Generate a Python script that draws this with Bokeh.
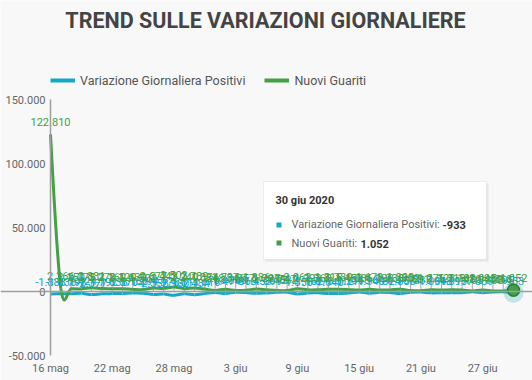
import numpy as np
import pandas as pd
from bokeh.plotting import figure
from bokeh.models import (ColumnDataSource, Range1d, FixedTicker, Span, Legend,
                          LegendItem, BoxAnnotation, Label)
from bokeh.core.properties import value
from bokeh.embed import file_html
from bokeh.resources import INLINE

# ---------------- data ----------------
DATES = pd.date_range("2020-05-16", "2020-06-30", freq="D")
VAR_POSITIVI = [-1883, -1836, -1798, -1424, -2377, -1792, -1638, -1570, -1158, -1294,
                -2358, -1976, -2980, -1811, -2484, -1616, -708, -1474, -596, -868,
                -1453, -1099, -615, -532, -1858, -1162, -1073, -1640, -1512, -1211,
                -365, -1340, -644, -824, -1558, -571, -335, -1064, -918, -1017,
                -957, -185, -889, -308, -195, -933]
NUOVI_GUARITI = [122810, 2366, 2150, 2075, 2881, 2278, 2160, 2120, 1639, 1502,
                 2677, 2443, 3503, 2240, 2789, 1874, 848, 1737, 846, 957,
                 1886, 1297, 759, 747, 2062, 1293, 1360, 1815, 1780, 1450,
                 1086, 1673, 1198, 1238, 1808, 802, 591, 1276, 1128, 1319,
                 1102, 480, 1095, 480, 368, 1052]
SERIES_NAMES = ["Variazione Giornaliera Positivi", "Nuovi Guariti"]
X_TICK_DATES = ["2020-05-16", "2020-05-22", "2020-05-28", "2020-06-03",
                "2020-06-09", "2020-06-15", "2020-06-21", "2020-06-27"]
X_TICK_LABELS = ["16 mag", "22 mag", "28 mag", "3 giu", "9 giu", "15 giu", "21 giu", "27 giu"]
Y_TICKS = [-50000, 0, 50000, 100000, 150000]
Y_TICK_LABELS = ["-50.000", "0", "50.000", "100.000", "150.000"]
TITLE = "TREND SULLE VARIAZIONI GIORNALIERE"
TOOLTIP_DATE = "30 giu 2020"

# ---------------- styles / layout (page pixels) ----------------
BLUE = "#13a8c8"
GREEN = "#43a047"
BG = "#f8f8f8"
FONT = "Roboto"
W, H = 532, 380          # figure; the frame fills it
X_FIRST_PX, X_LAST_PX = 50, 513      # first / last day
Y_TOP_PX, Y_BOT_PX = 99, 355         # 150.000 / -50.000 lines
DAY_MS = 86400000.0


def it_fmt(v):
    s = f"{abs(int(v)):,}".replace(",", ".")
    return "-" + s if v < 0 else s


def to_ms(d):
    return np.array(pd.to_datetime(d).values.astype("datetime64[ms]").astype(np.int64), dtype=float)


xs = to_ms(DATES)
y_lo, y_hi = min(Y_TICKS), max(Y_TICKS)

# ranges so that the frame (whole canvas) maps the data where the reference has it
ms_per_px = (xs[-1] - xs[0]) / (X_LAST_PX - X_FIRST_PX)
x_start = xs[0] - X_FIRST_PX * ms_per_px
x_end = xs[-1] + (W - X_LAST_PX) * ms_per_px
u_per_px = (y_hi - y_lo) / (Y_BOT_PX - Y_TOP_PX)
y_end = y_hi + Y_TOP_PX * u_per_px
y_start = y_lo - (H - Y_BOT_PX) * u_per_px


def smooth_source(ys):
    ys = np.asarray(ys, dtype=float)
    n = len(xs)
    rec = {k: [] for k in ["x0", "y0", "x1", "y1", "cx0", "cy0", "cx1", "cy1"]}
    for i in range(n - 1):
        if i == 0:
            c0x, c0y = xs[0], ys[0]
        else:
            c0x = xs[i] + (xs[i + 1] - xs[i - 1]) / 6
            c0y = ys[i] + (ys[i + 1] - ys[i - 1]) / 6
        if i + 2 >= n:
            c1x, c1y = xs[i + 1], ys[i + 1]
        else:
            c1x = xs[i + 1] - (xs[i + 2] - xs[i]) / 6
            c1y = ys[i + 1] - (ys[i + 2] - ys[i]) / 6
        rec["x0"].append(xs[i]); rec["y0"].append(ys[i])
        rec["x1"].append(xs[i + 1]); rec["y1"].append(ys[i + 1])
        rec["cx0"].append(c0x); rec["cy0"].append(c0y)
        rec["cx1"].append(c1x); rec["cy1"].append(c1y)
    return ColumnDataSource(rec)


p = figure(width=W, height=H, x_axis_type="datetime", output_backend="svg",
           toolbar_location=None, min_border=0,
           x_range=Range1d(x_start, x_end), y_range=Range1d(y_start, y_end))
p.background_fill_color = BG
p.border_fill_color = BG
p.outline_line_color = None
p.grid.visible = False

# x axis, drawn at the -50.000 line
xt = to_ms(X_TICK_DATES)
p.xaxis.fixed_location = y_lo
p.xaxis.ticker = FixedTicker(ticks=list(xt))
p.xaxis.major_label_overrides = {float(t): lab for t, lab in zip(xt, X_TICK_LABELS)}
p.xaxis.axis_line_color = None
p.xaxis.major_tick_line_color = None
p.xaxis.minor_tick_line_color = None
p.xaxis.major_tick_out = 0
p.xaxis.major_label_standoff = 6
p.xaxis.major_label_text_font = FONT
p.xaxis.major_label_text_font_size = "11px"
p.xaxis.major_label_text_color = "#666666"

# y axis, drawn at the first day
p.yaxis.fixed_location = xs[0]
p.yaxis.bounds = (y_lo, y_hi)
p.yaxis.ticker = FixedTicker(ticks=Y_TICKS)
p.yaxis.major_label_overrides = {t: lab for t, lab in zip(Y_TICKS, Y_TICK_LABELS)}
p.yaxis.axis_line_color = "#9e9e9e"
p.yaxis.axis_line_width = 1.5
p.yaxis.major_tick_line_color = None
p.yaxis.minor_tick_line_color = None
p.yaxis.major_tick_out = 0
p.yaxis.major_label_standoff = 5
p.yaxis.major_label_text_font = FONT
p.yaxis.major_label_text_font_size = "11px"
p.yaxis.major_label_text_color = "#666666"

# zero line & day ticks
p.add_layout(Span(location=0, dimension="width", line_color="#9e9e9e", line_width=1.5))
TICK_PX = 17
p.segment(x0=xs, y0=np.zeros(len(xs)), x1=xs, y1=np.full(len(xs), TICK_PX * u_per_px),
          line_color="#a8a8a8", line_width=1)

# smoothed series
for ys, col in [(VAR_POSITIVI, BLUE), (NUOVI_GUARITI, GREEN)]:
    p.bezier(x0="x0", y0="y0", x1="x1", y1="y1", cx0="cx0", cy0="cy0", cx1="cx1", cy1="cy1",
             source=smooth_source(ys), line_color=col, line_width=3)

# data labels
for ys, col in [(VAR_POSITIVI, BLUE), (NUOVI_GUARITI, GREEN)]:
    src = ColumnDataSource(dict(x=xs, y=ys, t=[it_fmt(v) for v in ys]))
    p.text(x="x", y="y", text="t", source=src, text_color=col, text_align="center",
           text_baseline="alphabetic", y_offset=-12, text_font=value(FONT),
           text_font_size="11px")

# hovered last point
p.scatter(x=[xs[-1]], y=[VAR_POSITIVI[-1]], size=20, fill_color=BLUE, fill_alpha=0.25,
          line_color=None)
p.scatter(x=[xs[-1]], y=[NUOVI_GUARITI[-1]], size=12, fill_color=GREEN,
          line_color="#2e7d32", line_width=1.5)


# screen helpers (frame == canvas == page)
def sx(img_x):
    return img_x


def sy(img_y):
    return H - img_y


# title
p.add_layout(Label(x=sx(265), y=sy(20), x_units="screen", y_units="screen", text=TITLE,
                   text_font=FONT, text_font_size="21.5px", text_font_style="bold",
                   text_color="#444444", text_align="center", text_baseline="alphabetic"))

# legend (proxy renderers)
r1 = p.line(x=[np.nan], y=[np.nan], line_color=BLUE, line_width=4)
r2 = p.line(x=[np.nan], y=[np.nan], line_color=GREEN, line_width=4)
LEG_H = 18
legend = Legend(items=[LegendItem(label=SERIES_NAMES[0], renderers=[r1]),
                       LegendItem(label=SERIES_NAMES[1], renderers=[r2])],
                orientation="horizontal", location=(sx(50), sy(80 + LEG_H / 2)),
                padding=0, margin=0, spacing=19, glyph_width=25, glyph_height=LEG_H,
                label_height=LEG_H, label_standoff=5,
                label_text_font=FONT, label_text_font_size="12.5px",
                label_text_color="#555555",
                background_fill_alpha=0, border_line_color=None)
p.add_layout(legend, "center")


# tooltip
def box(l, r, t, b, **kw):
    p.add_layout(BoxAnnotation(left=sx(l), right=sx(r), top=sy(t), bottom=sy(b),
                               left_units="screen", right_units="screen",
                               top_units="screen", bottom_units="screen", **kw))


box(265, 488, 183, 261, fill_color="black", fill_alpha=0.07, line_color=None)
box(263, 486, 181, 259, fill_color="white", fill_alpha=1, line_color="#c8c8c8", line_width=1)
box(276, 281, 222, 227, fill_color=BLUE, fill_alpha=1, line_color=None)
box(276, 281, 240, 245, fill_color=GREEN, fill_alpha=1, line_color=None)


def lab(text, x, y, bold=False, color="#666666"):
    p.add_layout(Label(x=sx(x), y=sy(y), x_units="screen", y_units="screen", text=text,
                       text_font=FONT, text_font_size="11px",
                       text_font_style="bold" if bold else "normal",
                       text_color=color, text_baseline="middle", text_align="left"))


lab(TOOLTIP_DATE, 275, 200, bold=True, color="#333333")
lab(SERIES_NAMES[0] + ": ", 291, 224)
lab(it_fmt(VAR_POSITIVI[-1]), 442, 224, bold=True, color="#333333")
lab(SERIES_NAMES[1] + ": ", 291, 243)
lab(it_fmt(NUOVI_GUARITI[-1]), 360, 243, bold=True, color="#333333")

open("out.html", "w").write(file_html(p, INLINE))
